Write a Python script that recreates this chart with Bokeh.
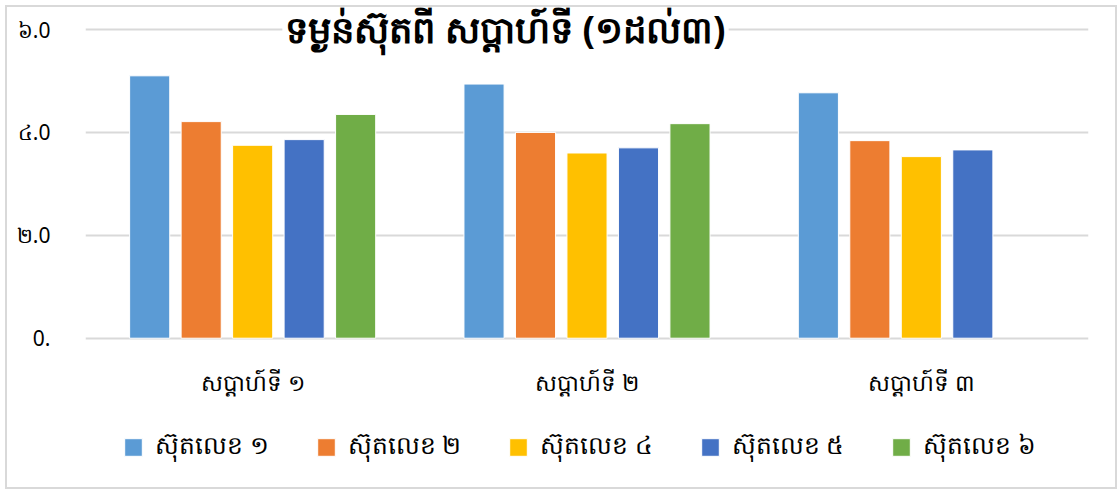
from bokeh.plotting import figure
from bokeh.models import FactorRange, Range1d, Legend, LegendItem, Label, ColumnDataSource, FixedTicker
from bokeh.transform import dodge
from bokeh.embed import file_html
from bokeh.resources import INLINE
from bokeh.core.properties import value

title_text = "ទម្ងន់ស៊ុតពី សប្តាហ៍ទី (១ដល់៣)"
weeks = ["សប្តាហ៍ទី ១", "សប្តាហ៍ទី ២", "សប្តាហ៍ទី ៣"]
series_names = ["ស៊ុតលេខ ១", "ស៊ុតលេខ ២", "ស៊ុតលេខ ៤", "ស៊ុតលេខ ៥", "ស៊ុតលេខ ៦"]
egg1 = [5.10, 4.94, 4.77]
egg2 = [4.21, 4.00, 3.84]
egg4 = [3.75, 3.60, 3.53]
egg5 = [3.86, 3.70, 3.66]
egg6 = [4.35, 4.17, float("nan")]
colors = ["#5B9BD5", "#ED7D31", "#FFC000", "#4472C4", "#70AD47"]
y_ticks = [0, 2, 4, 6]
y_tick_labels = ["0.", "២.0", "៤.0", "៦.0"]

FONT = "Noto Sans"

src = ColumnDataSource(dict(week=weeks, s1=egg1, s2=egg2, s4=egg4, s5=egg5, s6=egg6))
cols = ["s1", "s2", "s4", "s5", "s6"]

# frame extends above/below the value area so title, category labels and legend sit inside it
p = figure(width=1112, height=484, x_range=FactorRange(*weeks, range_padding=0),
           y_range=Range1d(-2.824, 6.428), output_backend="svg", toolbar_location=None,
           min_border_left=78, min_border_right=31, min_border_top=0, min_border_bottom=8)
p.styles = {"border": "2px solid #D9D9D9", "box-sizing": "border-box",
            "margin-left": "5px", "margin-top": "5px"}
p.outline_line_color = None
p.background_fill_color = "white"
p.border_fill_color = "white"

step = 0.154
renderers = []
for i, (c, col) in enumerate(zip(cols, colors)):
    r = p.vbar(x=dodge("week", (i - 2) * step, range=p.x_range), top=c, width=0.12,
               source=src, fill_color=col, line_color="white", line_width=1)
    renderers.append(r)

p.xgrid.grid_line_color = None
p.ygrid.grid_line_color = "#D9D9D9"
p.ygrid.grid_line_width = 2
p.yaxis.ticker = FixedTicker(ticks=y_ticks)
p.yaxis.major_label_overrides = {t: l for t, l in zip(y_ticks, y_tick_labels)}
p.yaxis.axis_line_color = None
p.yaxis.major_tick_line_color = None
p.yaxis.minor_tick_line_color = None
p.yaxis.major_label_standoff = 29
p.yaxis.major_label_text_font = FONT
p.yaxis.major_label_text_font_size = "21px"
p.yaxis.major_label_text_color = "#000000"

p.xaxis.visible = False

# category labels below the zero line
p.text(x=weeks, y=[-0.86] * len(weeks), text=weeks, text_align="center",
       text_baseline="middle", text_font=value(FONT), text_font_size="23px",
       text_color="#000000")

legend = Legend(items=[LegendItem(label=n, renderers=[r]) for n, r in zip(series_names, renderers)],
                orientation="horizontal", location=(37, 17), padding=0, margin=0,
                border_line_color=None, background_fill_alpha=0,
                glyph_width=22, glyph_height=22, label_standoff=11, spacing=46,
                label_text_font=FONT, label_text_font_size="25px", label_text_color="#000000")
p.add_layout(legend, "center")

title = Label(x=420, y=455, x_units="screen", y_units="screen", text=title_text,
              text_align="center", text_baseline="alphabetic", text_font=FONT,
              text_font_size="37px", text_font_style="bold", text_color="#000000",
              background_fill_color="white", padding=3)
p.add_layout(title)

open("out.html", "w").write(file_html(p, INLINE))
